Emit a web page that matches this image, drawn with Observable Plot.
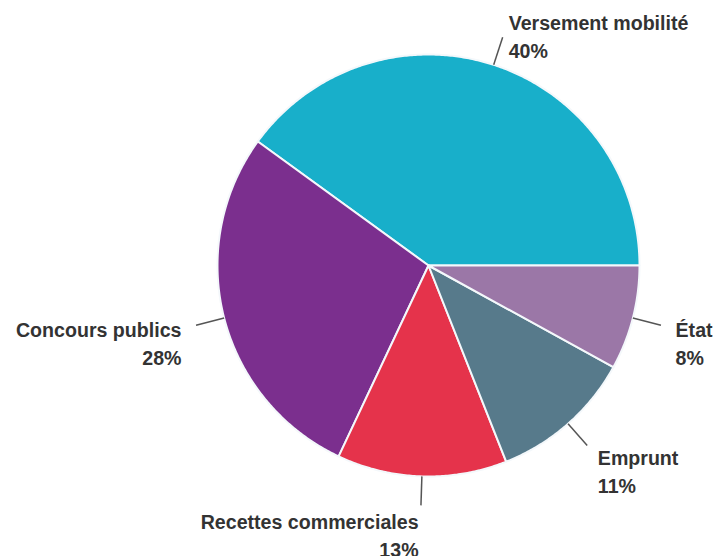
<!DOCTYPE html>
<html><head><meta charset="utf-8">
<script src="https://cdn.jsdelivr.net/npm/d3@7"></script>
<script src="https://cdn.jsdelivr.net/npm/@observablehq/plot@0.6"></script>
<style>body{margin:0;background:#fff}#chart svg{display:block}</style>
</head><body><div id="chart"></div>
<script>
const categories = ["Versement mobilité", "Concours publics", "Recettes commerciales", "Emprunt", "État"];
const shares = [40, 28, 13, 11, 8];
const colors = ["#18afca", "#7b2f8e", "#e5334b", "#577a8b", "#9b77a7"];

const R = 211; // px per data unit (pie radius)
const total = d3.sum(shares);
let acc = 0;
const slices = categories.map((c, i) => {
  const a0 = acc / total * 2 * Math.PI;
  acc += shares[i];
  const a1 = acc / total * 2 * Math.PI;
  return {category: c, value: shares[i], a0, a1, mid: (a0 + a1) / 2};
});

// polygon outline of each slice (center -> arc -> center)
const outline = [];
for (const s of slices) {
  outline.push({category: s.category, x: 0, y: 0});
  const n = Math.max(2, Math.ceil((s.a1 - s.a0) / (Math.PI / 360)));
  for (let k = 0; k <= n; k++) {
    const a = s.a0 + (s.a1 - s.a0) * k / n;
    outline.push({category: s.category, x: Math.cos(a), y: Math.sin(a)});
  }
  outline.push({category: s.category, x: 0, y: 0});
}

const rEnd = 240 / R;
const leaders = slices.map(s => ({
  x1: Math.cos(s.mid), y1: Math.sin(s.mid),
  x2: rEnd * Math.cos(s.mid), y2: rEnd * Math.sin(s.mid)
}));
const labels = slices.map(s => {
  const c = Math.cos(s.mid), sn = Math.sin(s.mid);
  const dxp = 13 * c + 2 * Math.sign(c);
  const dyp = 12 + 16 * sn;
  return {
    text: s.category + "\n" + s.value + "%",
    x: rEnd * c + dxp / R,
    y: rEnd * sn + dyp / R,
    side: c >= 0 ? "right" : "left"
  };
});

const font = {fontFamily: "'Liberation Sans', Arial, sans-serif", fontSize: 19.6, fontWeight: "bold", fill: "#333", lineAnchor: "top", lineHeight: 1.43};

const chart = Plot.plot({
  width: 714, height: 556,
  marginLeft: 217, marginRight: 75, marginTop: 54, marginBottom: 80,
  x: {domain: [-1, 1], axis: null},
  y: {domain: [-1, 1], axis: null},
  color: {domain: categories, range: colors},
  style: {background: "#fff", overflow: "visible"},
  marks: [
    Plot.line(outline, {x: "x", y: "y", z: "category", fill: "category", stroke: "#f4f8fb", strokeWidth: 2, strokeLinejoin: "round", curve: "linear"}),
    Plot.link(leaders, {x1: "x1", y1: "y1", x2: "x2", y2: "y2", stroke: "#555", strokeWidth: 1.5}),
    Plot.text(labels.filter(d => d.side === "right"), {x: "x", y: "y", text: "text", textAnchor: "start", ...font}),
    Plot.text(labels.filter(d => d.side === "left"), {x: "x", y: "y", text: "text", textAnchor: "end", ...font})
  ]
});
document.getElementById("chart").appendChild(chart);
</script>
</body></html>
